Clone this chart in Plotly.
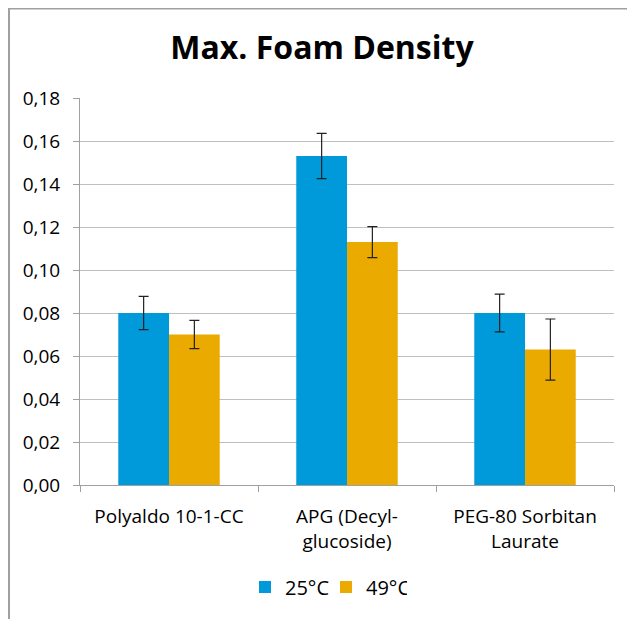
import plotly.graph_objects as go

categories = ["Polyaldo 10-1-CC", "APG (Decyl-<br>glucoside)", "PEG-80 Sorbitan<br>Laurate"]
series_names = ["25°C", "49°C"]
values_25 = [0.080, 0.153, 0.080]
errors_25 = [0.0077, 0.0105, 0.0088]
values_49 = [0.070, 0.113, 0.063]
errors_49 = [0.0066, 0.0072, 0.0142]
y_ticks = [0.00, 0.02, 0.04, 0.06, 0.08, 0.10, 0.12, 0.14, 0.16, 0.18]

colors = ["#0099DA", "#EAAA00"]
font_family = "Open Sans"

# figure is displayed with an 8px page offset
W, H = 627, 611
PL, PR, PT, PB = 72, 606, 90, 477
pw, ph = PR - PL, PB - PT

fig = go.Figure()
for name, vals, errs, col in [
    (series_names[0], values_25, errors_25, colors[0]),
    (series_names[1], values_49, errors_49, colors[1]),
]:
    fig.add_trace(go.Bar(
        x=categories, y=vals, name=name,
        marker=dict(color=col, line=dict(width=0)),
        error_y=dict(type="data", array=errs, visible=True,
                     color="#222222", thickness=1.2, width=5),
    ))

shapes = [
    dict(type="line", xref="paper", yref="paper",
         x0=(0 - PL) / pw, x1=(W - PL) / pw,
         y0=(PB - 0.5) / ph, y1=(PB - 0.5) / ph,
         line=dict(color="#a0a0a0", width=2)),
    dict(type="line", xref="paper", yref="paper",
         x0=(1 - PL) / pw, x1=(1 - PL) / pw,
         y0=(PB - 0) / ph, y1=(PB - H) / ph,
         line=dict(color="#a0a0a0", width=2)),
]

fig.update_layout(
    width=W, height=H,
    margin=dict(l=PL, r=W - PR, t=PT, b=H - PB, autoexpand=False),
    paper_bgcolor="white", plot_bgcolor="white",
    separators=", ",
    barmode="group", bargap=0.43, bargroupgap=0,
    title=dict(text="<b>Max. Foam Density</b>", x=(322 - 8) / W, xref="container",
               xanchor="center", y=1 - 40 / H, yanchor="middle",
               font=dict(family=font_family, size=32, color="#000000")),
    font=dict(family=font_family, size=18, color="#000000"),
    showlegend=True,
    legend=dict(orientation="h", x=(318 - PL) / pw, xanchor="center",
                y=(PB - 579) / ph, yanchor="middle",
                font=dict(family=font_family, size=20, color="#000000"),
                itemwidth=30, entrywidth=36, entrywidthmode="pixels",
                traceorder="normal"),
    shapes=shapes,
    xaxis=dict(showline=True, linecolor="#a0a0a0", linewidth=1,
               ticks="outside", ticklen=6, tickcolor="#a0a0a0",
               tickson="boundaries", showgrid=False, ticklabelstandoff=14,
               tickfont=dict(family=font_family, size=19, color="#000000")),
    yaxis=dict(range=[0, 0.18], tickvals=y_ticks, tickformat=".2f",
               showline=True, linecolor="#a0a0a0", linewidth=1,
               ticks="outside", ticklen=6, tickcolor="#a0a0a0",
               showgrid=True, gridcolor="#bfbfbf", gridwidth=1,
               zeroline=False, ticklabelstandoff=9,
               tickfont=dict(family=font_family, size=19, color="#000000")),
)

fig.write_html("out.html")
